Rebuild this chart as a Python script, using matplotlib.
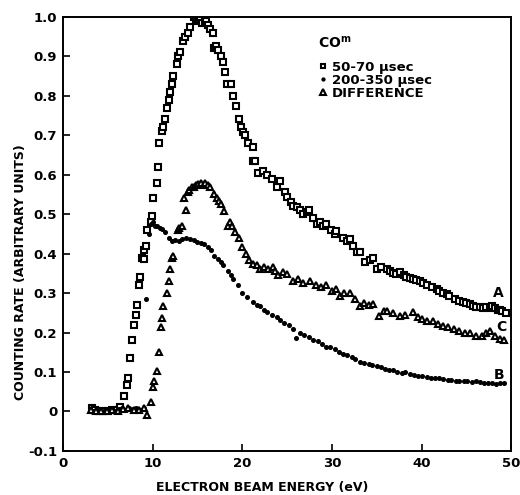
import numpy as np
import matplotlib
matplotlib.use("Agg")
from matplotlib import pyplot as plt

plt.rcParams['font.family'] = ['DejaVu Sans']
plt.rcParams['font.weight'] = 'bold'
plt.rcParams['mathtext.default'] = 'bf'

# 50-70 usec (squares, curve A)
a_x = [3.2, 3.6, 4.0, 4.5, 5.0, 5.5, 6.0, 6.4, 6.8, 7.2, 7.3, 7.5, 7.7, 7.9, 8.1, 8.3,
       8.5, 8.6, 8.8, 9.0, 9.0, 9.3, 9.4, 9.8, 9.9, 10.1, 10.5, 10.6, 10.7, 11.1, 11.2,
       11.4, 11.6, 11.8, 12.0, 12.2, 12.3, 12.7, 12.8, 13.1, 13.4, 13.6, 13.9, 14.2,
       14.6, 14.9, 15.1, 15.3, 15.5, 15.8, 16.0, 16.2, 16.4, 16.7, 16.8, 17.1, 17.3,
       17.6, 17.9, 18.1, 18.3, 18.7, 19.0, 19.3, 19.6, 19.9, 20.1, 20.3, 20.7, 21.2,
       21.2, 21.4, 21.8, 22.3, 22.8, 23.3, 23.9, 24.2, 24.8, 25.0, 25.4, 25.7, 26.1,
       26.5, 26.8, 27.2, 27.4, 27.9, 28.3, 28.7, 29.0, 29.4, 29.9, 30.3, 30.5, 31.2,
       31.7, 32.0, 32.4, 32.8, 33.1, 33.7, 34.2, 34.6, 35.0, 35.5, 36.1, 36.5, 36.8,
       37.2, 37.6, 38.0, 38.3, 38.7, 39.0, 39.4, 39.8, 40.2, 40.6, 41.2, 41.7, 42.0,
       42.4, 42.8, 43.1, 43.7, 44.2, 44.6, 45.0, 45.4, 45.7, 46.1, 46.5, 46.9, 47.2,
       47.6, 47.9, 48.2, 48.5, 48.8, 49.0, 49.4]
a_y = [0.008, 0.003, 0.0, 0.002, 0.0, 0.003, 0.005, 0.012, 0.038, 0.066, 0.086, 0.136,
       0.18, 0.22, 0.245, 0.27, 0.32, 0.34, 0.39, 0.386, 0.41, 0.42, 0.46, 0.48, 0.495,
       0.54, 0.58, 0.62, 0.68, 0.71, 0.72, 0.74, 0.77, 0.79, 0.81, 0.83, 0.85, 0.88,
       0.90, 0.91, 0.94, 0.95, 0.96, 0.975, 1.0, 0.995, 0.99, 0.995, 0.985, 0.99, 0.99,
       0.98, 0.97, 0.96, 0.92, 0.925, 0.915, 0.90, 0.885, 0.86, 0.83, 0.83, 0.80, 0.775,
       0.74, 0.72, 0.707, 0.70, 0.68, 0.67, 0.635, 0.634, 0.605, 0.61, 0.60, 0.59, 0.57,
       0.583, 0.555, 0.543, 0.53, 0.52, 0.518, 0.51, 0.50, 0.505, 0.51, 0.49, 0.475,
       0.48, 0.47, 0.475, 0.46, 0.45, 0.457, 0.44, 0.432, 0.437, 0.42, 0.404, 0.404,
       0.38, 0.385, 0.39, 0.36, 0.365, 0.36, 0.355, 0.35, 0.348, 0.353, 0.345, 0.34,
       0.338, 0.336, 0.332, 0.33, 0.325, 0.32, 0.315, 0.31, 0.305, 0.30, 0.298, 0.293,
       0.285, 0.28, 0.278, 0.275, 0.272, 0.268, 0.266, 0.265, 0.262, 0.265, 0.262,
       0.268, 0.262, 0.258, 0.256, 0.255, 0.25]

# 200-350 usec (dots, curve B)
b_x = [3.0, 3.4, 3.8, 4.2, 4.6, 5.0, 5.4, 5.8, 6.2, 6.6, 7.0, 7.4, 7.8, 8.2, 8.6, 9.0,
       9.3, 9.6, 9.8, 10.0, 10.3, 10.5, 10.8, 11.1, 11.4, 11.8, 12.2, 12.5, 12.9, 13.3,
       13.7, 14.2, 14.6, 15.0, 15.4, 15.7, 16.2, 16.5, 16.8, 17.3, 17.6, 17.9, 18.4,
       18.7, 19.0, 19.5, 20.0, 20.5, 21.2, 21.6, 22.0, 22.4, 22.8, 23.3, 23.9, 24.2,
       24.7, 25.2, 25.7, 26.0, 26.4, 26.9, 27.4, 27.9, 28.4, 28.9, 29.4, 29.8, 30.3,
       30.8, 31.2, 31.7, 32.2, 32.6, 33.1, 33.6, 34.1, 34.5, 35.0, 35.5, 35.9, 36.4,
       36.8, 37.3, 37.8, 38.2, 38.7, 39.2, 39.6, 40.1, 40.6, 41.1, 41.5, 42.0, 42.4,
       42.9, 43.3, 43.8, 44.2, 44.7, 45.1, 45.6, 46.1, 46.5, 47.0, 47.4, 47.9, 48.3,
       48.8, 49.2]
b_y = [0.005, 0.0, 0.003, -0.002, 0.002, 0.0, 0.004, 0.001, 0.006, 0.01, 0.004, 0.008,
       0.006, 0.01, 0.005, 0.01, 0.285, 0.45, 0.475, 0.48, 0.47, 0.47, 0.465, 0.462,
       0.455, 0.44, 0.432, 0.435, 0.432, 0.437, 0.44, 0.437, 0.435, 0.43, 0.428, 0.424,
       0.417, 0.41, 0.394, 0.386, 0.38, 0.37, 0.356, 0.345, 0.336, 0.32, 0.30, 0.29,
       0.278, 0.27, 0.268, 0.258, 0.252, 0.245, 0.24, 0.232, 0.225, 0.218, 0.21, 0.187,
       0.20, 0.195, 0.188, 0.182, 0.178, 0.17, 0.164, 0.164, 0.158, 0.15, 0.146, 0.142,
       0.138, 0.132, 0.126, 0.124, 0.12, 0.118, 0.114, 0.112, 0.108, 0.106, 0.104, 0.1,
       0.098, 0.099, 0.096, 0.093, 0.09, 0.09, 0.088, 0.086, 0.085, 0.084, 0.083, 0.081,
       0.08, 0.078, 0.078, 0.077, 0.077, 0.075, 0.076, 0.074, 0.073, 0.072, 0.071, 0.07,
       0.072, 0.073]

# difference (triangles, curve C)
c_x = [3.1, 3.7, 4.3, 4.9, 5.5, 6.1, 6.7, 7.3, 7.9, 8.5, 9.0, 9.4, 9.8, 10.1, 10.2, 10.5,
       10.7, 10.9, 11.1, 11.2, 11.6, 11.8, 11.9, 12.2, 12.3, 12.8, 13.0, 13.3, 13.5,
       13.7, 13.9, 14.1, 14.4, 14.6, 14.9, 15.1, 15.4, 15.7, 15.9, 16.2, 16.4, 16.8,
       17.2, 17.4, 17.6, 18.0, 18.4, 18.6, 18.9, 19.2, 19.6, 20.0, 20.4, 20.8, 21.2,
       21.6, 22.0, 22.4, 22.9, 23.4, 23.7, 24.0, 24.6, 25.0, 25.7, 26.2, 26.8, 27.6,
       28.2, 28.8, 29.4, 30.0, 30.5, 30.9, 31.4, 32.0, 32.6, 33.1, 33.6, 34.1, 34.6,
       35.3, 35.8, 36.1, 36.8, 37.6, 38.2, 39.0, 39.6, 40.1, 40.6, 41.3, 41.8, 42.4,
       43.0, 43.6, 44.2, 44.8, 45.4, 46.1, 46.7, 47.2, 47.6, 48.2, 48.7, 49.2]
c_y = [0.004, 0.0, 0.002, 0.0, 0.003, 0.002, 0.006, 0.008, 0.005, 0.004, 0.008, -0.01,
       0.025, 0.063, 0.078, 0.103, 0.15, 0.215, 0.237, 0.268, 0.30, 0.33, 0.36, 0.39,
       0.395, 0.46, 0.465, 0.47, 0.54, 0.51, 0.555, 0.56, 0.57, 0.57, 0.575, 0.576, 0.58,
       0.575, 0.58, 0.575, 0.568, 0.55, 0.54, 0.533, 0.525, 0.508, 0.47, 0.48, 0.47,
       0.455, 0.44, 0.417, 0.40, 0.385, 0.374, 0.37, 0.36, 0.365, 0.36, 0.366, 0.355,
       0.345, 0.353, 0.349, 0.33, 0.335, 0.325, 0.33, 0.32, 0.315, 0.32, 0.305, 0.31,
       0.293, 0.30, 0.30, 0.285, 0.268, 0.275, 0.27, 0.273, 0.243, 0.255, 0.255, 0.25,
       0.243, 0.245, 0.252, 0.24, 0.235, 0.23, 0.228, 0.222, 0.217, 0.215, 0.21, 0.205,
       0.2, 0.198, 0.192, 0.19, 0.198, 0.205, 0.19, 0.184, 0.18]

yticks = [-0.1, 0, 0.1, 0.2, 0.3, 0.4, 0.5, 0.6, 0.7, 0.8, 0.9, 1.0]
ytick_labels = ['-0.1', '0', '0.1', '0.2', '0.3', '0.4', '0.5', '0.6', '0.7', '0.8', '0.9', '1.0']
xticks = [0, 10, 20, 30, 40, 50]

fig = plt.figure(figsize=(5.2, 4.95), dpi=100)
ax = fig.add_axes([0.121, 0.089, 0.862, 0.877])

sq, = ax.plot(a_x, a_y, 's', ms=4.0, mfc='white', mec='black', mew=1.5, ls='none',
              label='50-70 \u03bcsec')
dt, = ax.plot(b_x, b_y, 'o', ms=2.6, color='black', ls='none',
              label='200-350 \u03bcsec')
tr, = ax.plot(c_x, c_y, '^', ms=4.6, mfc='white', mec='black', mew=1.5, ls='none',
              label='DIFFERENCE')

ax.set_xlim(0, 50)
ax.set_ylim(-0.1, 1.0)
ax.set_xticks(xticks)
ax.set_xticklabels([str(t) for t in xticks], fontsize=9.5, fontweight='bold')
ax.set_yticks(yticks)
ax.set_yticklabels(ytick_labels, fontsize=9.5, fontweight='bold')
ax.tick_params(direction='in', length=5, width=1.2, pad=4)
for s in ax.spines.values():
    s.set_linewidth(1.4)

ax.text(0.568, 0.94, 'CO$^{\\mathbf{m}}$', transform=ax.transAxes, fontsize=10,
        fontweight='bold', va='center')
ax.legend(handles=[sq, dt, tr], loc='upper left', bbox_to_anchor=(0.558, 0.914),
          frameon=False, handlelength=0.5, handletextpad=0.45, labelspacing=0.0,
          borderpad=0, markerscale=0.8, prop={'weight': 'bold', 'size': 9.5})

ax.text(48.0, 0.30, 'A', fontsize=10, fontweight='bold', va='center')
ax.text(48.3, 0.215, 'C', fontsize=10, fontweight='bold', va='center')
ax.text(48.1, 0.093, 'B', fontsize=10, fontweight='bold', va='center')

fig.text(0.04, 0.45, 'COUNTING RATE (ARBITRARY UNITS)', rotation=90, fontsize=9,
         fontweight='bold', ha='center', va='center')
fig.text(0.505, 0.016, 'ELECTRON BEAM ENERGY (eV)', fontsize=9, fontweight='bold',
         ha='center', va='center')

plt.savefig('out.png', dpi=100)
